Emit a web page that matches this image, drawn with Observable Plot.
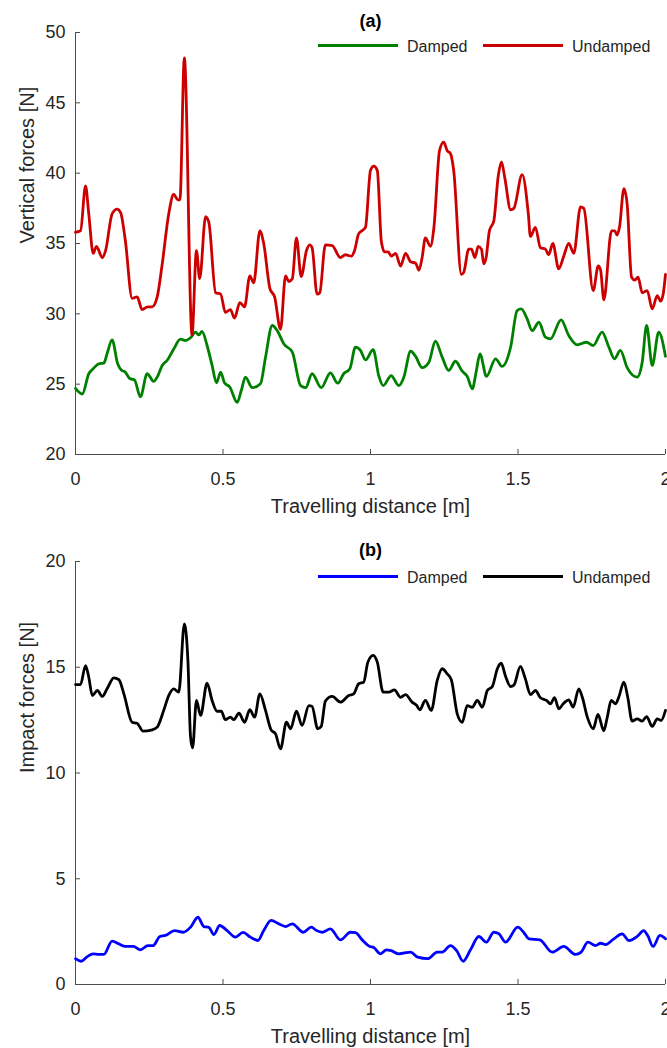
<!DOCTYPE html>
<html><head><meta charset="utf-8">
<script src="https://cdn.jsdelivr.net/npm/d3@7"></script>
<script src="https://cdn.jsdelivr.net/npm/@observablehq/plot@0.6"></script>
<style>
html,body{margin:0;padding:0;background:#fff;overflow:hidden}
body{font-family:"Liberation Sans",Arial,Helvetica,sans-serif}
#wrap{position:relative;width:667px;height:1048px}
.panel{position:absolute;left:0;width:667px}
.legline{position:absolute;height:3px}
.legtext{position:absolute;font-size:16px;line-height:1;color:#262626;white-space:nowrap}
</style></head>
<body><div id="wrap"></div>
<script>
// ---------- shared axis data ----------
const xTicks = [0, 0.5, 1, 1.5, 2];
const xLabel = "Travelling distance [m]";
const seriesNames = ["Damped", "Undamped"];

// ---------- panel (a): vertical forces ----------
const aTitle = "(a)";
const aYLabel = "Vertical forces [N]";
const aYTicks = [20, 25, 30, 35, 40, 45, 50];
const aColors = ["#008000", "#cc0000"];

const aDampedX = [0,0.023,0.045,0.060,0.079,0.096,0.107,0.124,0.143,0.155,0.169,0.184,0.200,0.220,0.243,0.265,0.277,0.294,0.311,0.333,0.356,0.373,0.390,0.407,0.418,0.429,0.446,0.463,0.478,0.492,0.505,0.523,0.548,0.562,0.576,0.599,0.627,0.644,0.667,0.684,0.706,0.735,0.763,0.780,0.802,0.833,0.864,0.889,0.909,0.930,0.949,0.966,0.983,1.009,1.028,1.043,1.070,1.096,1.113,1.136,1.153,1.175,1.198,1.220,1.243,1.265,1.288,1.311,1.328,1.345,1.359,1.371,1.393,1.424,1.446,1.475,1.497,1.511,1.531,1.548,1.571,1.593,1.610,1.646,1.672,1.701,1.732,1.755,1.785,1.808,1.827,1.847,1.870,1.904,1.921,1.936,1.955,1.977,2.000];
const aDampedY = [24.7,24.3,25.74,26.1,26.45,26.5,27.16,28.15,26.45,26.0,25.85,25.4,25.3,24.1,25.74,25.2,25.5,26.33,26.7,27.5,28.2,28.1,28.3,28.7,28.5,28.75,27.75,26.33,25.1,25.85,25.1,24.8,23.7,24.55,25.5,24.75,25.03,26.9,29.17,28.8,27.87,27.27,24.9,24.75,25.74,24.75,25.8,25.07,25.74,26.1,27.63,27.4,26.73,27.45,25.6,24.9,25.6,24.9,25.5,27.34,26.97,26.17,26.56,28.05,26.92,25.97,26.63,25.92,25.55,24.67,25.97,27.16,25.55,26.8,26.26,27.63,30.23,30.35,29.64,28.8,29.4,28.34,28.22,29.57,28.46,27.8,27.98,27.75,28.7,27.63,26.8,27.4,26.17,25.5,26.56,29.17,26.33,28.7,26.97];

const aUndampedX = [0,0.017,0.034,0.045,0.060,0.071,0.091,0.102,0.124,0.141,0.153,0.169,0.192,0.209,0.226,0.245,0.260,0.277,0.294,0.316,0.333,0.347,0.354,0.369,0.395,0.410,0.421,0.441,0.452,0.475,0.492,0.508,0.525,0.539,0.557,0.573,0.591,0.604,0.625,0.638,0.659,0.675,0.695,0.712,0.723,0.735,0.749,0.765,0.783,0.794,0.802,0.819,0.828,0.847,0.870,0.898,0.915,0.935,0.946,0.960,0.977,0.983,1.000,1.011,1.023,1.037,1.048,1.060,1.071,1.085,1.102,1.119,1.136,1.153,1.164,1.175,1.186,1.203,1.215,1.234,1.248,1.260,1.271,1.282,1.308,1.316,1.333,1.342,1.354,1.365,1.376,1.384,1.392,1.403,1.418,1.433,1.444,1.455,1.475,1.486,1.514,1.535,1.542,1.559,1.576,1.593,1.604,1.618,1.638,1.655,1.672,1.689,1.712,1.723,1.755,1.772,1.780,1.791,1.817,1.828,1.836,1.844,1.859,1.870,1.885,1.896,1.907,1.921,1.938,1.955,1.972,1.983,1.992,2.000];
const aUndampedY = [35.8,35.9,39.1,37.1,34.3,34.8,34.0,34.5,37.1,37.45,37.2,35.2,31.1,31.2,30.3,30.5,30.5,31.2,33.55,37.1,38.5,38.1,38.1,48.2,28.5,34.5,32.5,36.9,36.5,31.5,31.4,30.1,30.3,29.7,30.8,30.5,32.7,32.2,35.9,35.0,31.8,31.2,28.9,32.7,32.3,32.5,35.4,32.65,34.5,34.9,34.7,31.4,31.5,34.9,34.85,34.0,34.2,34.1,34.5,35.7,36.0,36.15,40.2,40.5,40.2,35.1,34.4,34.4,34.1,34.3,33.4,34.3,33.7,33.6,33.1,34.0,35.4,34.8,36.15,41.6,42.2,41.6,41.4,40.2,32.8,32.95,34.6,34.6,34.0,34.8,34.6,33.55,34.0,35.9,36.6,39.8,40.8,39.7,37.4,37.5,39.9,37.1,35.5,36.15,34.7,34.6,34.2,35.0,33.2,34.1,35.0,34.3,37.6,37.5,31.65,33.4,33.1,31.0,35.9,35.9,35.6,36.15,38.9,37.8,32.6,32.4,32.6,31.5,31.65,30.35,31.3,30.9,31.4,32.8];

// ---------- panel (b): impact forces ----------
const bTitle = "(b)";
const bYLabel = "Impact forces [N]";
const bYTicks = [0, 5, 10, 15, 20];
const bColors = ["#0000ff", "#000000"];

const bDampedX = [0,0.019,0.040,0.060,0.079,0.096,0.124,0.147,0.169,0.196,0.220,0.245,0.263,0.286,0.305,0.336,0.365,0.390,0.415,0.435,0.452,0.469,0.489,0.514,0.542,0.568,0.593,0.618,0.638,0.663,0.689,0.712,0.735,0.772,0.799,0.817,0.836,0.864,0.898,0.932,0.949,0.972,0.998,1.011,1.034,1.054,1.070,1.096,1.136,1.160,1.194,1.226,1.243,1.271,1.292,1.314,1.339,1.367,1.393,1.418,1.435,1.458,1.499,1.520,1.537,1.574,1.616,1.655,1.695,1.714,1.737,1.763,1.780,1.797,1.825,1.853,1.876,1.904,1.926,1.940,1.958,1.981,2.000];
const bDampedY = [1.22,1.1,1.32,1.45,1.42,1.42,2.05,1.92,1.8,1.8,1.64,1.84,1.84,2.27,2.32,2.55,2.47,2.71,3.18,2.74,2.7,2.36,2.79,2.55,2.24,2.46,2.24,2.08,2.55,3.03,2.87,2.74,2.87,2.47,2.71,2.55,2.47,2.63,2.11,2.47,2.45,2.11,1.8,1.75,1.45,1.64,1.6,1.45,1.53,1.29,1.22,1.53,1.53,1.84,1.6,1.1,1.64,2.27,2.0,2.47,2.4,2.0,2.71,2.45,2.16,2.11,1.53,1.8,1.42,1.53,2.0,1.84,1.95,1.89,2.16,2.39,2.08,2.27,2.55,2.3,1.8,2.32,2.16];

const bUndampedX = [0,0.017,0.034,0.045,0.057,0.074,0.091,0.107,0.130,0.147,0.164,0.192,0.209,0.229,0.260,0.277,0.299,0.316,0.333,0.350,0.369,0.381,0.390,0.397,0.410,0.424,0.446,0.463,0.480,0.494,0.508,0.525,0.537,0.554,0.573,0.591,0.607,0.625,0.644,0.663,0.678,0.695,0.715,0.729,0.749,0.768,0.791,0.802,0.821,0.833,0.847,0.870,0.898,0.926,0.943,0.960,0.977,0.991,1.009,1.023,1.043,1.062,1.081,1.102,1.119,1.141,1.156,1.167,1.186,1.206,1.226,1.243,1.260,1.274,1.294,1.311,1.328,1.345,1.362,1.379,1.396,1.413,1.430,1.443,1.458,1.475,1.486,1.508,1.525,1.542,1.559,1.576,1.597,1.610,1.624,1.638,1.655,1.672,1.687,1.706,1.718,1.735,1.755,1.771,1.791,1.802,1.816,1.831,1.842,1.859,1.872,1.887,1.904,1.921,1.936,1.955,1.972,1.985,2.000];
const bUndampedY = [14.18,14.18,15.08,14.53,13.66,13.9,13.62,13.98,14.5,14.41,13.74,12.4,12.35,11.98,12.04,12.17,12.96,13.66,13.98,13.82,17.05,15.32,11.7,11.19,13.43,12.72,14.25,13.43,12.92,12.92,12.52,12.64,12.52,12.83,12.4,12.99,12.64,13.74,12.96,12.04,11.85,11.14,12.4,12.09,12.92,12.25,13.19,13.15,12.09,12.2,13.4,13.62,13.35,13.66,13.74,14.22,14.3,15.24,15.56,15.24,13.82,13.82,13.93,13.58,13.71,13.35,13.2,12.99,13.43,12.96,14.37,14.93,14.69,14.41,12.8,12.4,13.19,13.11,13.43,13.11,13.9,14.09,14.93,15.19,14.56,14.09,14.15,15.04,14.45,13.71,13.9,13.56,13.43,13.27,13.56,13.04,13.3,13.46,13.11,13.98,13.58,12.64,12.09,12.77,12.0,12.6,13.43,13.27,13.6,14.3,13.58,12.45,12.56,12.45,12.67,12.2,12.56,12.48,12.96];

// ---------- drawing ----------
const W = 667, ML = 75, MR = 2;
const axisColor = "#4d4d4d";
const textColor = "#262626";
const wrap = document.getElementById("wrap");
const fmt = d => String(d);

function drawPanel(cfg) {
  const {top, height, marginTop, marginBottom, yTicks, yLabel, title, xs, ys, colors, legendY} = cfg;
  const frameH = height - marginTop - marginBottom;
  const frameW = W - ML - MR;
  const yDomain = [yTicks[0], yTicks[yTicks.length - 1]];
  const lines = xs.map((xArr, k) => Plot.line(
    xArr.map((x, i) => ({x, y: ys[k][i]})),
    {x: "x", y: "y", stroke: colors[k], strokeWidth: 2.8, curve: "monotone-x", strokeLinejoin: "round"}
  ));
  const chart = Plot.plot({
    width: W, height, marginTop, marginBottom, marginLeft: ML, marginRight: MR,
    style: {fontFamily: "'Liberation Sans', Arial, Helvetica, sans-serif", fontSize: "18px", color: textColor, background: "white", overflow: "visible"},
    x: {domain: [xTicks[0], xTicks[xTicks.length - 1]]},
    y: {domain: yDomain},
    marks: [
      Plot.ruleX(xTicks, {x: d => d, insetTop: frameH - 5, stroke: axisColor}),
      Plot.ruleY(yTicks, {y: d => d, insetRight: frameW - 5, stroke: axisColor}),
      Plot.ruleX([xTicks[0]], {stroke: axisColor}),
      Plot.ruleY([yDomain[0]], {stroke: axisColor}),
      Plot.axisX({ticks: xTicks, tickFormat: fmt, tickSize: 0, tickPadding: 18, label: null, fontSize: 18}),
      Plot.axisY({ticks: yTicks, tickFormat: fmt, tickSize: 0, tickPadding: 10, label: null, fontSize: 18}),
      ...lines,
      Plot.text([xLabel], {frameAnchor: "bottom", lineAnchor: "bottom", dy: 58, fontSize: 20, fill: textColor}),
      Plot.text([yLabel], {frameAnchor: "left", lineAnchor: "bottom", rotate: -90, dx: -42, fontSize: 20, fill: textColor}),
      Plot.text([title], {frameAnchor: "top", lineAnchor: "bottom", dy: -6, fontSize: 18, fontWeight: "bold", fill: "#000"})
    ]
  });
  const div = document.createElement("div");
  div.className = "panel";
  div.style.top = top + "px";
  div.style.height = height + "px";
  div.appendChild(chart);
  // legend (no box, top right inside axes)
  const lineLefts = [318, 483], textLefts = [407, 572];
  seriesNames.forEach((name, k) => {
    const ln = document.createElement("div");
    ln.className = "legline";
    ln.style.left = lineLefts[k] + "px";
    ln.style.width = "80px";
    ln.style.top = (legendY - 1.5) + "px";
    ln.style.background = colors[k];
    div.appendChild(ln);
    const tx = document.createElement("div");
    tx.className = "legtext";
    tx.style.left = textLefts[k] + "px";
    tx.style.top = (legendY + 7 - 13.5) + "px";
    tx.textContent = name;
    div.appendChild(tx);
  });
  wrap.appendChild(div);
}

drawPanel({top: 0, height: 530, marginTop: 32, marginBottom: 76, yTicks: aYTicks, yLabel: aYLabel, title: aTitle,
  xs: [aDampedX, aUndampedX], ys: [aDampedY, aUndampedY], colors: aColors, legendY: 45});
drawPanel({top: 530, height: 518, marginTop: 31, marginBottom: 64, yTicks: bYTicks, yLabel: bYLabel, title: bTitle,
  xs: [bDampedX, bUndampedX], ys: [bDampedY, bUndampedY], colors: bColors, legendY: 46});
</script>
</body></html>
